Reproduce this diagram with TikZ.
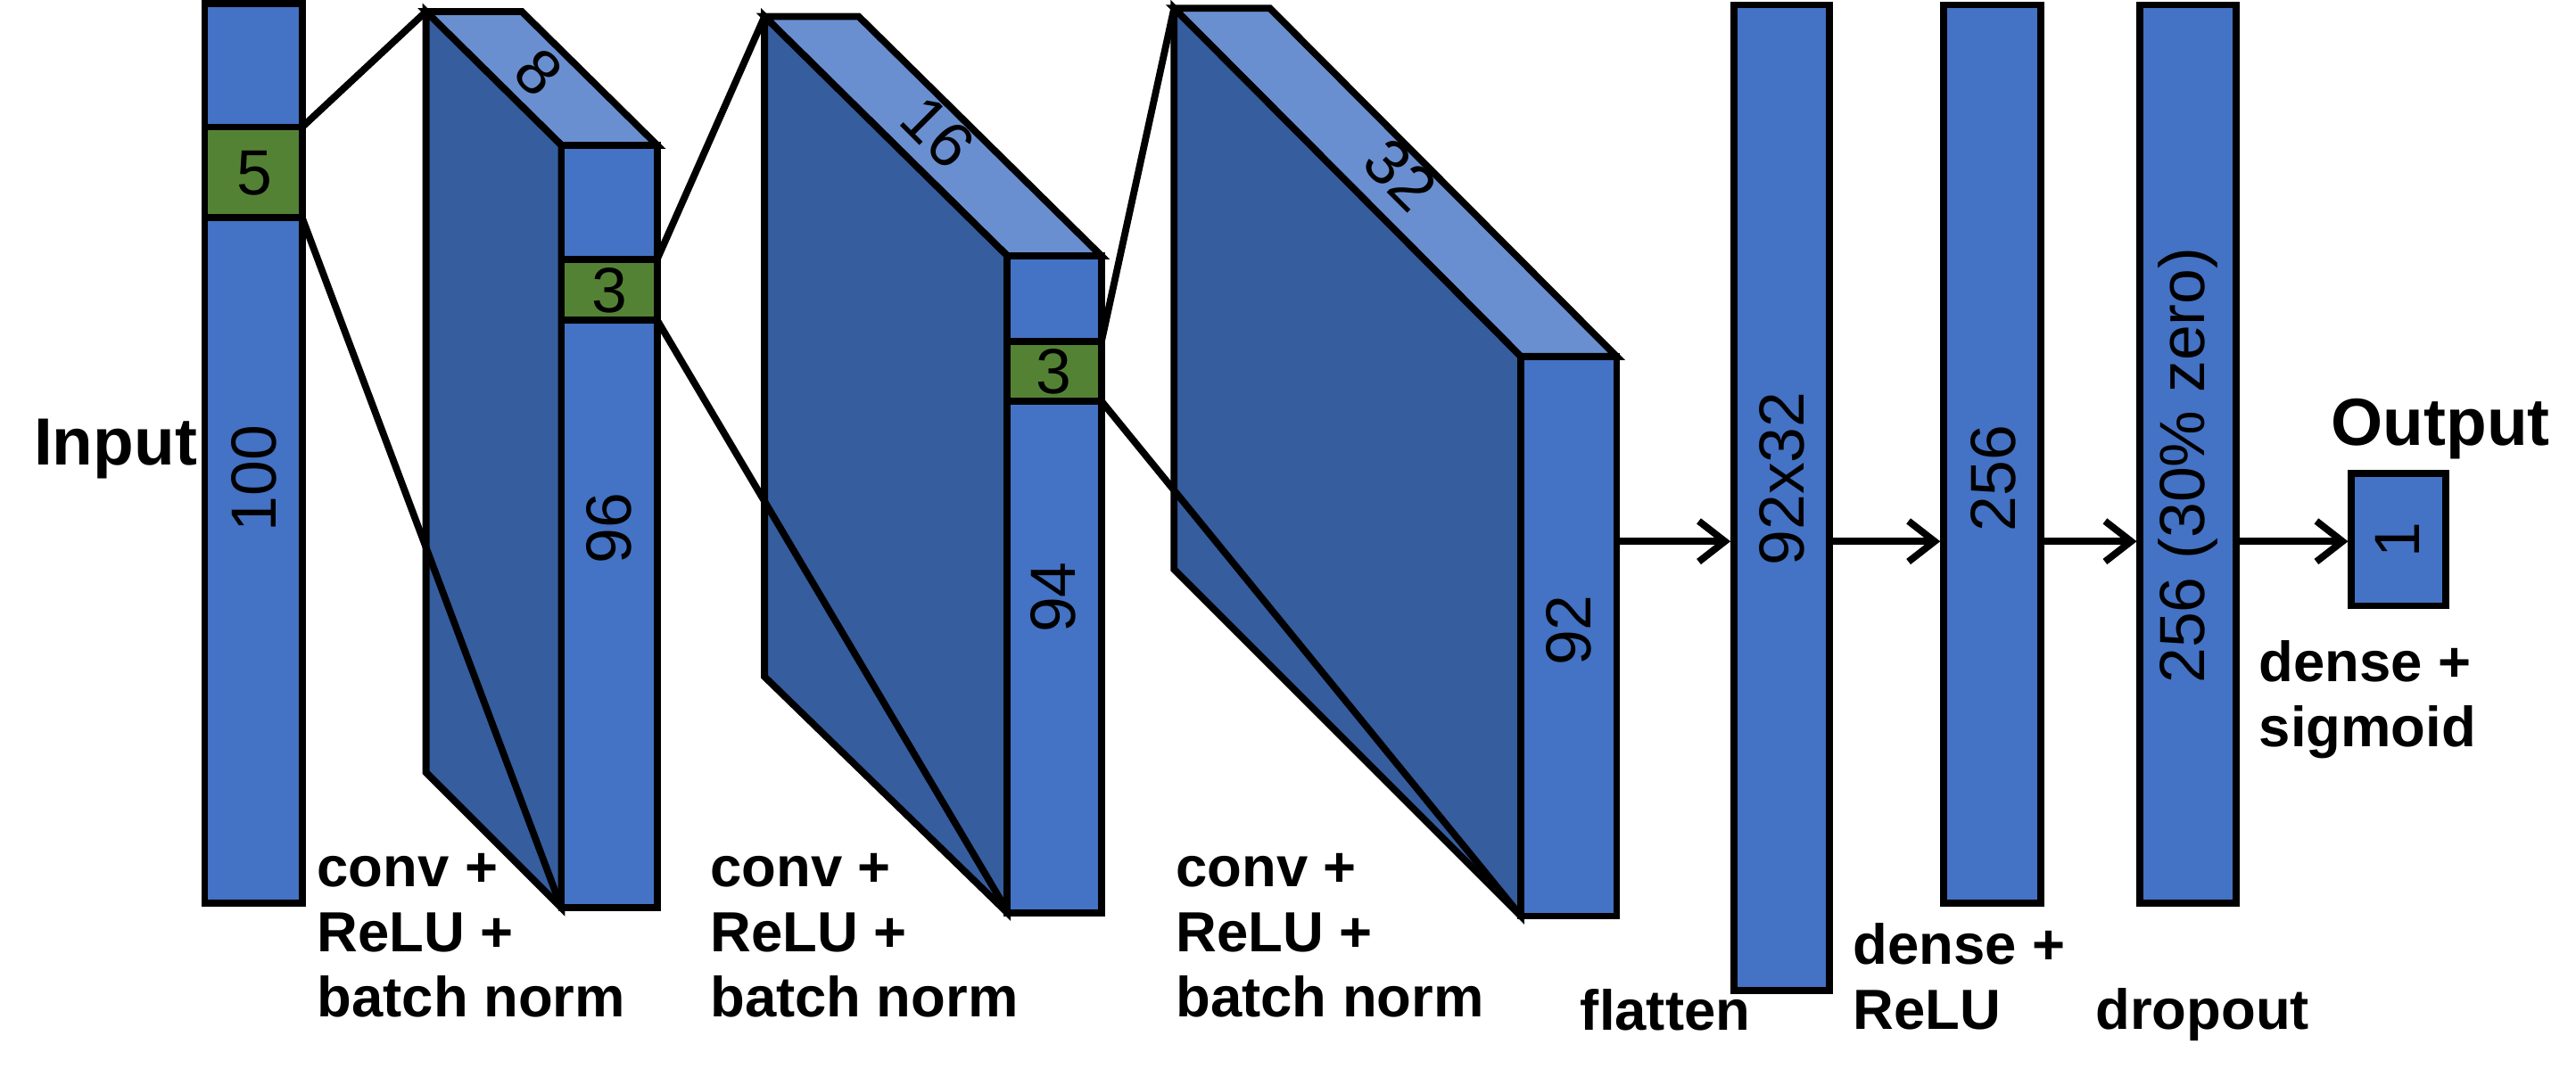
\documentclass[tikz,border=0pt]{standalone}
\usepackage{fontspec}
\usetikzlibrary{arrows.meta}
\setmainfont{Liberation Sans}
\definecolor{bfront}{RGB}{68,114,196}
\definecolor{bside}{RGB}{54,93,158}
\definecolor{btop}{RGB}{106,143,208}
\definecolor{gbox}{RGB}{84,130,53}
\begin{document}
\begin{tikzpicture}[x=0.02cm,y=-0.02cm,line width=2.4pt,line join=miter,
  num/.style={font=\fontsize{22}{26}\selectfont},
  lbl/.style={font=\bfseries\fontsize{19.5}{22.5}\selectfont,align=left,anchor=north west,inner sep=0pt},
  big/.style={font=\bfseries\fontsize{23}{27}\selectfont,inner sep=0pt},
  arr/.style={->,>={Straight Barb[length=9pt,width=14pt]}}]
\useasboundingbox (0,0) rectangle (1560,652);
\tikzset{every path/.append style={draw=black}}
% input
\draw[fill=bfront] (124,2) rectangle (183,547);
\draw[fill=gbox] (124,77) rectangle (183,132);
\node[num] at (154,105) {5};
\node[num,rotate=90] at (154,290) {100};
\node[big] at (70,272) {Input};
% block 1
\draw[fill=btop] (258,7) -- (316,7) -- (398,88) -- (340,88) -- cycle;
\draw[fill=bside] (258,7) -- (340,88) -- (340,550) -- (258,468) -- cycle;
\draw[fill=bfront] (340,88) rectangle (398,550);
\draw[fill=gbox] (340,157) rectangle (398,194);
\node[num] at (369,176) {3};
\node[num,rotate=90] at (369,320) {96};
\node[num,rotate=-45] at (326,44) {8};
\draw (183,77) -- (258,7);
\draw (183,132) -- (340,550);
% block 2
\draw[fill=btop] (463,10) -- (520,10) -- (667,155) -- (610,155) -- cycle;
\draw[fill=bside] (463,10) -- (610,155) -- (610,553) -- (463,410) -- cycle;
\draw[fill=bfront] (610,155) rectangle (667,553);
\draw[fill=gbox] (610,207) rectangle (667,243);
\node[num] at (638,225) {3};
\node[num,rotate=90] at (638,362) {94};
\node[num,rotate=-45] at (568,80) {16};
\draw (398,157) -- (463,10);
\draw (398,194) -- (610,552);
% block 3
\draw[fill=btop] (711,5) -- (769,5) -- (979,216) -- (921,216) -- cycle;
\draw[fill=bside] (711,5) -- (921,216) -- (921,555) -- (711,345) -- cycle;
\draw[fill=bfront] (921,216) rectangle (979,555);
\node[num,rotate=90] at (950,382) {92};
\node[num,rotate=-45] at (848,106) {32};
\draw (667,207) -- (711,5);
\draw (667,243) -- (921,555);
% labels
\node[lbl] at (190,515) {conv +\\ReLU +\\batch norm};
\node[lbl] at (428,515) {conv +\\ReLU +\\batch norm};
\node[lbl] at (710,515) {conv +\\ReLU +\\batch norm};
% dense bars
\draw[fill=bfront] (1050,3) rectangle (1108,600);
\node[num,rotate=90] at (1079,290) {92x32};
\draw[fill=bfront] (1177,3) rectangle (1236,547);
\node[num,rotate=90] at (1207,290) {256};
\draw[fill=bfront] (1296,3) rectangle (1354,547);
\node[num,rotate=90] at (1325,282) {256 (30\% zero)};
\draw[fill=bfront] (1424,287) rectangle (1481,367);
\node[num,rotate=90] at (1452,327) {1};
\draw[arr] (979,328) -- (1048,328);
\draw[arr] (1108,328) -- (1175,328);
\draw[arr] (1236,328) -- (1294,328);
\draw[arr] (1354,328) -- (1422,328);
\node[lbl,anchor=west] at (955,612) {flatten};
\node[lbl] at (1120,557) {dense +\\ReLU};
\node[lbl,anchor=west] at (1267,615) {dropout};
\node[lbl] at (1366,386) {dense +\\sigmoid};
\node[big] at (1478,260) {Output};
\end{tikzpicture}
\end{document}
